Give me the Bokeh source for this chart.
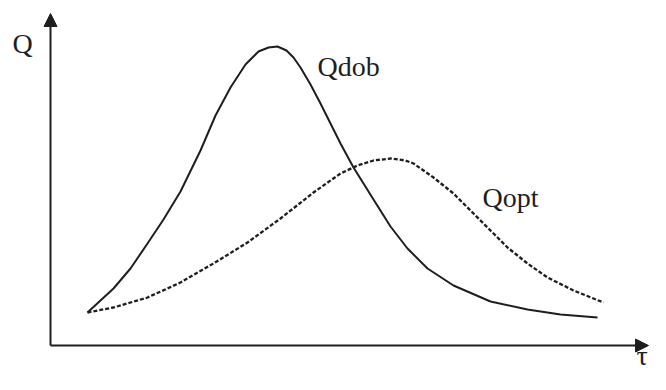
from bokeh.plotting import figure
from bokeh.models import Arrow, NormalHead
from bokeh.core.properties import value
from bokeh.embed import file_html
from bokeh.resources import INLINE

# Qdob (solid) curve: tau, Q
tau_dob = [37, 63, 80, 97, 113, 130, 150, 165, 180, 195, 208, 218, 227, 236, 243, 250, 260,
           270, 280, 290, 303, 323, 340, 357, 377, 403, 440, 477, 510, 547]
q_dob = [33, 57, 77, 102, 126, 154, 195, 230, 258, 281, 294, 298, 299, 295, 288, 278, 261,
         242, 222, 202, 178, 146, 119, 97, 77, 60, 44, 36, 31, 28]

# Qopt (dashed) curve
tau_opt = [37, 63, 97, 130, 163, 197, 230, 263, 290, 307, 323, 340, 355, 363, 383, 403, 423,
           440, 457, 477, 497, 523, 553]
q_opt = [33, 38, 48, 63, 82, 103, 127, 153, 172, 180, 185, 187, 185, 182, 168, 152, 132,
         115, 98, 82, 68, 55, 43]

labels = ["Q", "Qdob", "Qopt", "τ"]
label_x = [-38, 267, 432, 586]
label_y = [302, 279, 148, -10]

p = figure(width=650, height=374, output_backend="svg", toolbar_location=None,
           x_range=(-50, 600), y_range=(-29, 345), min_border=0)
p.xaxis.visible = False
p.yaxis.visible = False
p.xgrid.visible = False
p.ygrid.visible = False
p.outline_line_color = None
p.background_fill_color = "white"
p.border_fill_color = "white"

ink = "#1e1e1e"

# axes with arrows
p.add_layout(Arrow(end=NormalHead(size=13, fill_color=ink, line_color=ink, line_width=1),
                   x_start=0, y_start=0, x_end=0, y_end=332, line_color=ink, line_width=2))
p.add_layout(Arrow(end=NormalHead(size=13, fill_color=ink, line_color=ink, line_width=1),
                   x_start=0, y_start=0, x_end=598, y_end=0, line_color=ink, line_width=2))

p.line(tau_dob, q_dob, line_color=ink, line_width=2, line_join="round")
p.line(tau_opt, q_opt, line_color=ink, line_width=2.3, line_dash="4 2")

p.text(x=label_x, y=label_y, text=labels, text_font=value("Liberation Serif"),
       text_font_size="28px", text_color=ink, text_align="left", text_baseline="alphabetic")

open("out.html", "w").write(file_html(p, INLINE))
